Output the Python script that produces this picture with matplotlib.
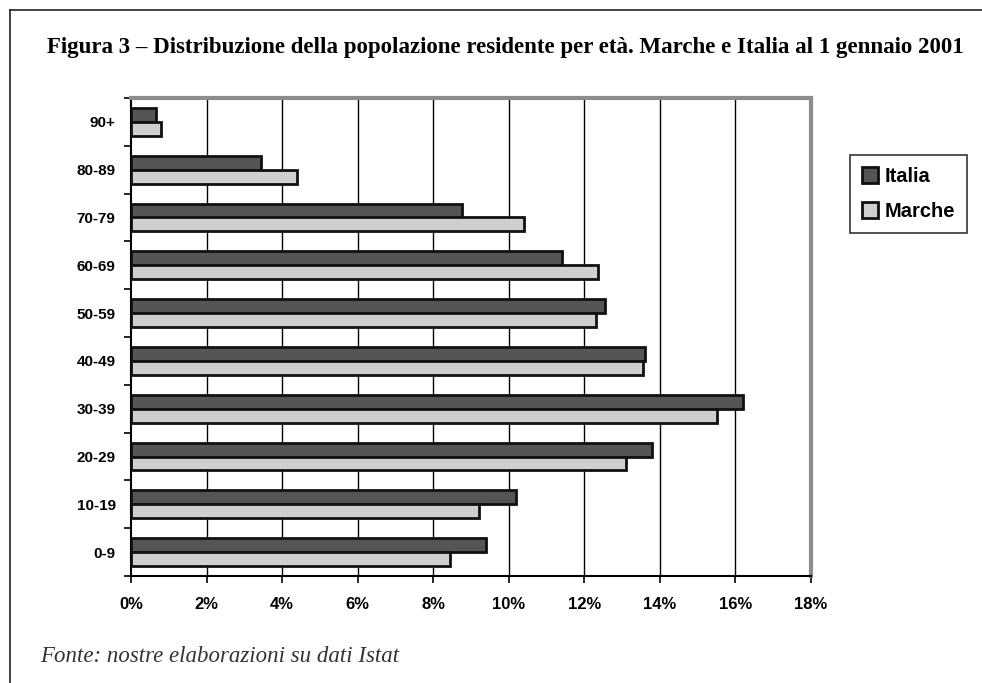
import matplotlib.pyplot as plt
import numpy as np
from matplotlib.lines import Line2D
from matplotlib.patches import Patch

# age classes from bottom to top
classi = ["0-9", "10-19", "20-29", "30-39", "40-49", "50-59", "60-69", "70-79", "80-89", "90+"]
italia = [9.4, 10.2, 13.8, 16.2, 13.6, 12.55, 11.4, 8.75, 3.45, 0.65]
marche = [8.45, 9.2, 13.1, 15.5, 13.55, 12.3, 12.35, 10.4, 4.4, 0.8]
xticks = [0, 2, 4, 6, 8, 10, 12, 14, 16, 18]

titolo = "Figura 3 \u2013 Distribuzione della popolazione residente per et\u00e0. Marche e Italia al 1 gennaio 2001"
fonte = "Fonte: nostre elaborazioni su dati Istat"

fig = plt.figure(figsize=(9.82, 6.83), dpi=100)
W, H = 982, 683
ax = fig.add_axes([131 / W, 1 - 576 / H, (811 - 131) / W, (576 - 98) / H])

y = np.arange(len(classi))
h = 0.29
ax.barh(y + h / 2, italia, height=h, color="#555555", edgecolor="#111111", linewidth=2, zorder=3)
ax.barh(y - h / 2, marche, height=h, color="#cfcfcf", edgecolor="#111111", linewidth=2, zorder=3)

ax.set_xlim(0, 18)
ax.set_ylim(-0.5, len(classi) - 0.5)
ax.set_xticks(xticks)
ax.set_xticklabels([f"{v}%" for v in xticks], fontsize=12, fontweight="bold", family="Liberation Sans")
ax.set_yticks(y)
ax.set_yticklabels(classi, fontsize=11, fontweight="bold", family="Liberation Sans")
ax.tick_params(axis="y", length=0, pad=11)
ax.tick_params(axis="x", length=5, width=1.2, pad=10)
# category separators on the y axis
ax.set_yticks(np.arange(-0.5, len(classi), 1), minor=True)
ax.tick_params(axis="y", which="minor", length=5, width=1.2)

for v in xticks[1:-1]:
    ax.axvline(v, color="black", linewidth=1, zorder=1)

for s in ["left", "bottom"]:
    ax.spines[s].set_linewidth(1.5)
    ax.spines[s].set_color("black")
for s in ["top", "right"]:
    ax.spines[s].set_linewidth(3)
    ax.spines[s].set_color("#8c8c8c")

handles = [Patch(facecolor="#555555", edgecolor="#111111", linewidth=2, label="Italia"),
           Patch(facecolor="#cfcfcf", edgecolor="#111111", linewidth=2, label="Marche")]
leg = fig.legend(handles=handles, loc="upper left", bbox_to_anchor=(850 / W, 1 - 155 / H),
                 prop={"family": "Liberation Sans", "weight": "bold", "size": 14.5},
                 frameon=True, fancybox=False, edgecolor="black", handlelength=0.8, handleheight=0.8,
                 handletextpad=0.3, borderpad=0.6, labelspacing=0.8, borderaxespad=0)
leg.get_frame().set_linewidth(1.2)

fig.text(505 / W, 1 - 48 / H, titolo, ha="center", va="center", fontsize=16.5,
         fontweight="bold", family="Liberation Serif")
fig.text(40 / W, 1 - 657 / H, fonte, ha="left", va="center", fontsize=16.5,
         style="italic", family="Liberation Serif", color="#333333")

# page frame
fig.add_artist(Line2D([10 / W, 1], [1 - 10 / H, 1 - 10 / H], color="#222222", linewidth=1.2))
fig.add_artist(Line2D([10 / W, 10 / W], [0, 1 - 10 / H], color="#222222", linewidth=1.2))

fig.savefig("out.png", dpi=100)
